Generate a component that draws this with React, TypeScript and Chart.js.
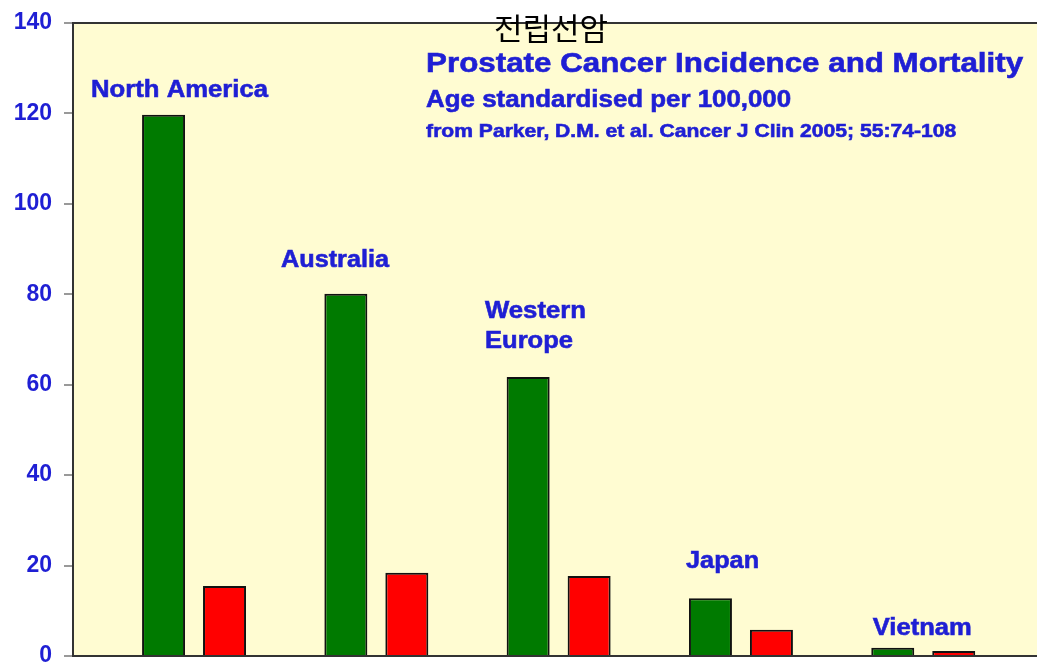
import React, { useEffect, useRef } from "react";
import { Chart, registerables } from "chart.js";

Chart.register(...registerables);

// ---- data ----
const regions = ["North America", "Australia", "Western Europe", "Japan", "Vietnam"];
const incidence = [119.7, 80.1, 61.7, 12.8, 1.8];
const mortality = [15.5, 18.4, 17.7, 5.8, 1.1];
const yTickValues = [0, 20, 40, 60, 80, 100, 120, 140];
const koreanTitle = "전립선암";
const titleLines = [
  "Prostate Cancer Incidence and Mortality",
  "Age standardised per 100,000",
  "from Parker, D.M. et al. Cancer J Clin 2005; 55:74-108",
];
const regionLabelLines = [["North America"], ["Australia"], ["Western", "Europe"], ["Japan"], ["Vietnam"]];

// ---- layout / style (not data) ----
const BLUE = "#1f1fd4";
const BG = "#fffcd2";
const labelPlacement = [
  { x: -0.565, y: [123.7], size: 24, width: [177] },
  { x: 0.477, y: [86.0], size: 24, width: [108] },
  { x: 1.596, y: [74.7, 68.2], size: 24, width: [101, 88] },
  { x: 2.699, y: [19.5], size: 24, width: [73] },
  { x: 3.723, y: [4.65], size: 24, width: [99] },
];
const titlePlacement = { x: 1.273, y: [129.2, 121.5, 114.8], size: [27, 23.5, 18.5], width: [597, 365, 530] };

function drawStretched(ctx: CanvasRenderingContext2D, text: string, x: number, y: number, size: number, width: number) {
  ctx.save();
  ctx.font = `bold ${size}px "Liberation Sans", Arial, sans-serif`;
  const natural = ctx.measureText(text).width;
  const sx = width / natural;
  ctx.translate(x, y);
  ctx.scale(sx, 1);
  ctx.fillStyle = BLUE;
  ctx.strokeStyle = BLUE;
  ctx.lineWidth = 0.6;
  ctx.textAlign = "left";
  ctx.textBaseline = "alphabetic";
  ctx.fillText(text, 0, 0);
  ctx.strokeText(text, 0, 0);
  ctx.restore();
}

const bgPlugin = {
  id: "bgPlugin",
  beforeDraw(chart: any) {
    const { ctx, chartArea } = chart;
    ctx.save();
    ctx.fillStyle = BG;
    ctx.fillRect(chartArea.left, chartArea.top, chartArea.right - chartArea.left, chartArea.bottom - chartArea.top);
    ctx.restore();
  },
};

const textPlugin = {
  id: "textPlugin",
  afterDraw(chart: any) {
    const { ctx, chartArea } = chart;
    const xs = chart.scales.x;
    const ys = chart.scales.y;
    regionLabelLines.forEach((lines, i) => {
      const p = labelPlacement[i];
      lines.forEach((t, j) => {
        drawStretched(ctx, t, xs.getPixelForValue(p.x), ys.getPixelForValue(p.y[j]), p.size, p.width[j]);
      });
    });
    titleLines.forEach((t, j) => {
      drawStretched(
        ctx,
        t,
        xs.getPixelForValue(titlePlacement.x),
        ys.getPixelForValue(titlePlacement.y[j]),
        titlePlacement.size[j],
        titlePlacement.width[j]
      );
    });
    ctx.save();
    ctx.font = `31px "Noto Sans CJK KR", sans-serif`;
    ctx.fillStyle = "#000";
    ctx.textAlign = "center";
    ctx.textBaseline = "middle";
    ctx.fillText(koreanTitle, (chartArea.left + chartArea.right) / 2 - 4, 28);
    ctx.restore();
  },
};

export default function App() {
  const canvasRef = useRef<HTMLCanvasElement | null>(null);

  useEffect(() => {
    if (!canvasRef.current) return;
    const chart = new Chart(canvasRef.current, {
      type: "bar",
      data: {
        datasets: [
          {
            label: "Incidence",
            data: incidence.map((v, i) => ({ x: i, y: v })),
            backgroundColor: "#007a00",
            borderColor: "#111",
            borderWidth: 2,
            categoryPercentage: 0.669,
            barPercentage: 0.705,
          },
          {
            label: "Mortality",
            data: mortality.map((v, i) => ({ x: i, y: v })),
            backgroundColor: "#ff0000",
            borderColor: "#111",
            borderWidth: 2,
            categoryPercentage: 0.669,
            barPercentage: 0.705,
          },
        ],
      },
      options: {
        animation: false,
        responsive: true,
        maintainAspectRatio: false,
        layout: { padding: { top: 23, bottom: 6, left: 0, right: 0 } },
        plugins: {
          legend: { display: false },
          tooltip: { enabled: false },
          title: { display: false },
        },
        scales: {
          x: {
            type: "linear",
            min: -0.664,
            max: 4.624,
            offset: false,
            afterBuildTicks(scale: any) {
              scale.ticks = regions.map((_, i) => ({ value: i }));
            },
            ticks: { display: false },
            grid: { display: false, drawTicks: false },
            border: { display: true, color: "#333", width: 2 },
            afterFit(scale: any) {
              scale.height = 0;
              scale.paddingLeft = 0;
              scale.paddingRight = 0;
            },
          },
          y: {
            min: 0,
            max: 140,
            afterBuildTicks(scale: any) {
              scale.ticks = yTickValues.map((v) => ({ value: v }));
            },
            ticks: {
              color: BLUE,
              padding: 12,
              font: { family: '"Liberation Sans", Arial, sans-serif', size: 23, weight: "bold" },
            },
            grid: {
              color: (c: any) => (c.tick && c.tick.value === 140 ? "#333" : "rgba(0,0,0,0)"),
              lineWidth: 2,
              tickColor: "#777",
              tickWidth: 1.5,
              tickLength: 9,
              drawTicks: true,
            },
            border: { display: true, color: "#333", width: 2 },
            afterFit(scale: any) {
              scale.width = 73;
              scale.paddingTop = 0;
              scale.paddingBottom = 0;
            },
          },
        },
      } as any,
      plugins: [bgPlugin, textPlugin],
    });
    return () => chart.destroy();
  }, []);

  return (
    <div style={{ position: "fixed", left: 0, top: 0, width: 1037, height: 662, background: "#fff" }}>
      <canvas ref={canvasRef} />
    </div>
  );
}
